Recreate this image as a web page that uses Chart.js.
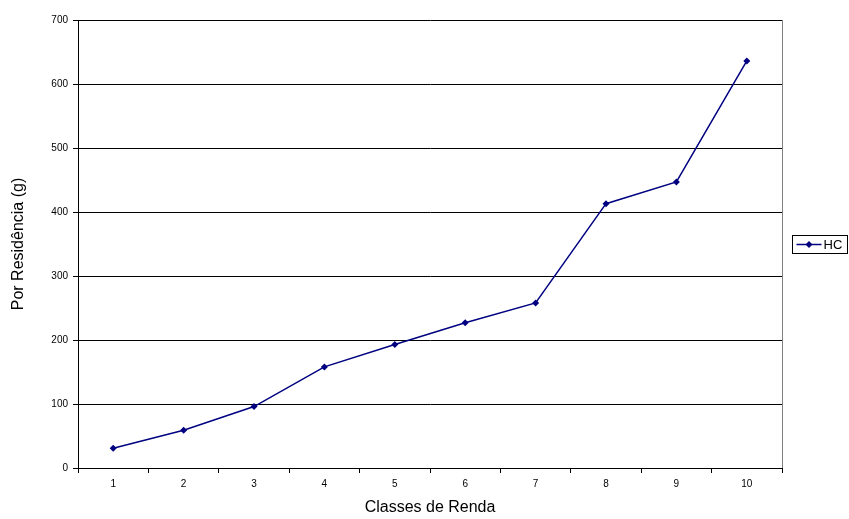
<!DOCTYPE html>
<html>
<head>
<meta charset="utf-8">
<script src="https://cdn.jsdelivr.net/npm/chart.js@4"></script>
<style>
  html, body { margin: 0; padding: 0; background: #fff; }
  #wrap { width: 849px; height: 519px; }
</style>
</head>
<body>
<div id="wrap"><canvas id="chart"></canvas></div>
<script>
// data
const classes = ['1', '2', '3', '4', '5', '6', '7', '8', '9', '10'];
const hcValues = [31, 59, 96, 158, 193, 227, 258, 413, 447, 636];
const seriesName = 'HC';
const yTitle = 'Por Residência (g)';
const xTitle = 'Classes de Renda';

const navy = '#000080';
const fontFamily = '"Liberation Sans", Arial, sans-serif';

// right border of plot + boxed legend like the Excel one
const frameAndLegend = {
    id: 'frameAndLegend',
    afterDraw(chart) {
        const { ctx, chartArea } = chart;
        ctx.save();
        ctx.strokeStyle = '#808080';
        ctx.lineWidth = 1;
        ctx.beginPath();
        ctx.moveTo(Math.round(chartArea.right) + 0.5, chartArea.top);
        ctx.lineTo(Math.round(chartArea.right) + 0.5, chartArea.bottom);
        ctx.stroke();

        // legend box
        const ds = chart.data.datasets[0];
        const bx = 792.5, bw = 55, bh = 18;
        const by = Math.round((chartArea.top + chartArea.bottom) / 2 - bh / 2) + 0.5;
        ctx.strokeStyle = '#000';
        ctx.strokeRect(bx, by, bw, bh);
        const cy = by + bh / 2;
        ctx.strokeStyle = ds.borderColor;
        ctx.lineWidth = 1.5;
        ctx.beginPath();
        ctx.moveTo(bx + 4, cy);
        ctx.lineTo(bx + 29, cy);
        ctx.stroke();
        ctx.fillStyle = ds.borderColor;
        ctx.beginPath();
        ctx.moveTo(bx + 16.5, cy - 3.5);
        ctx.lineTo(bx + 20, cy);
        ctx.lineTo(bx + 16.5, cy + 3.5);
        ctx.lineTo(bx + 13, cy);
        ctx.closePath();
        ctx.fill();
        ctx.fillStyle = '#000';
        ctx.font = '13px ' + fontFamily;
        ctx.textBaseline = 'middle';
        ctx.fillText(ds.label, bx + 31, cy + 1);
        ctx.restore();
    }
};

new Chart(document.getElementById('chart'), {
    type: 'line',
    data: {
        labels: classes,
        datasets: [{
            label: seriesName,
            data: hcValues,
            borderColor: navy,
            backgroundColor: navy,
            borderWidth: 1.5,
            pointStyle: 'rectRot',
            pointRadius: 3.5,
            pointHoverRadius: 3.5,
            pointBorderWidth: 0,
            tension: 0,
            fill: false
        }]
    },
    options: {
        responsive: true,
        maintainAspectRatio: false,
        animation: false,
        layout: { padding: { top: 20, right: 67, bottom: 0, left: 0 } },
        plugins: {
            legend: { display: false },
            tooltip: { enabled: false }
        },
        scales: {
            x: {
                type: 'category',
                offset: true,
                grid: { drawOnChartArea: false, offset: true, tickLength: 5, color: '#000', lineWidth: 1 },
                border: { display: true, color: '#000', width: 1 },
                ticks: { color: '#000', font: { family: fontFamily, size: 10 }, padding: 5, maxRotation: 0 },
                title: { display: true, text: xTitle, color: '#000', font: { family: fontFamily, size: 16 }, padding: { top: 0, bottom: 2 } },
                afterFit(scale) { scale.height = 51; }
            },
            y: {
                min: 0,
                max: 700,
                ticks: { stepSize: 100, color: '#000', font: { family: fontFamily, size: 10 }, padding: 5 },
                grid: { color: '#000', lineWidth: 1, tickLength: 5, drawTicks: true },
                border: { display: true, color: '#000', width: 1 },
                title: { display: true, text: yTitle, color: '#000', font: { family: fontFamily, size: 16 }, padding: { top: 9, bottom: 0 } },
                afterFit(scale) { scale.width = 78; }
            }
        }
    },
    plugins: [frameAndLegend]
});
</script>
</body>
</html>
